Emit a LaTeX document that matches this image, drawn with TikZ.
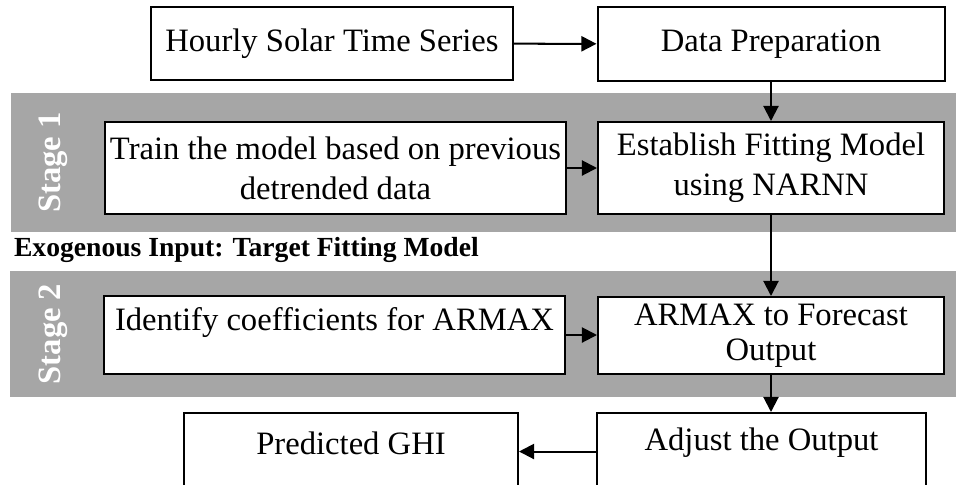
\documentclass[tikz,border=0pt]{standalone}
\usepackage{fontspec}
\setmainfont{Liberation Serif}
\usetikzlibrary{arrows.meta, positioning, calc}

\definecolor{bandgray}{RGB}{166,166,166}

\begin{document}
\begin{tikzpicture}[font=\fontsize{13}{16}\selectfont,
    box/.style={draw, line width=0.8pt, fill=white, align=center, inner sep=2pt},
    band/.style={fill=bandgray, draw=none},
    stagelbl/.style={rotate=90, text=white, font=\fontsize{13}{15}\selectfont\bfseries},
    arr/.style={-{Triangle[length=6pt, width=6pt]}, line width=0.8pt}]
  \useasboundingbox (0,0) rectangle (13.384,-6.776);

  % stage bands
  \fill[band] (0.16,-1.302) rectangle (13.384,-3.248);
  \fill[band] (0.14,-3.794) rectangle (13.384,-5.558);
  \node[stagelbl] (s1) at (0.742,-2.275) {Stage 1};
  \node[stagelbl] (s2) at (0.742,-4.676) {Stage 2};
  \node[anchor=west, font=\fontsize{11}{14}\selectfont\bfseries, inner sep=0pt] (exo) at (0.19,-3.50) {Exogenous Input: Target Fitting Model};

  % boxes
  \node[box, minimum width=5.068cm, minimum height=1.022cm] (hourly) at (4.648,-0.609) {Hourly Solar Time Series};
  \node[box, minimum width=4.858cm, minimum height=1.036cm] (prep) at (10.794,-0.616) {Data Preparation};
  \node[box, minimum width=6.426cm, minimum height=1.288cm] (train) at (4.697,-2.352) {Train the model based on previous\\detrended data};
  \node[box, minimum width=4.844cm, minimum height=1.288cm] (fit) at (10.794,-2.352) {Establish Fitting Model\\using NARNN};
  \node[box, minimum width=6.454cm, minimum height=1.092cm, text depth=13pt] (ident) at (4.683,-4.69) {Identify coefficients for ARMAX};
  \node[box, minimum width=4.844cm, minimum height=1.078cm, font=\fontsize{13}{14}\selectfont] (armax) at (10.794,-4.697) {ARMAX to Forecast\\Output};
  \node[box, minimum width=4.606cm, minimum height=1.078cm, text depth=10pt] (adjust) at (10.661,-6.321) {Adjust the Output};
  \node[box, minimum width=4.676cm, minimum height=1.078cm, text depth=7pt] (ghi) at (4.914,-6.321) {Predicted GHI};

  % connectors
  \draw[arr] (hourly) -- (prep);
  \draw[arr] (prep) -- (fit);
  \draw[arr] (train) -- (fit);
  \draw[arr] (fit) -- (armax);
  \draw[arr] (ident.east) -- (ident.east -| armax.west);
  \draw[arr] (armax.south) -- (armax.south |- adjust.north);
  \draw[arr] (adjust.west) -- (adjust.west -| ghi.east);
\end{tikzpicture}
\end{document}
